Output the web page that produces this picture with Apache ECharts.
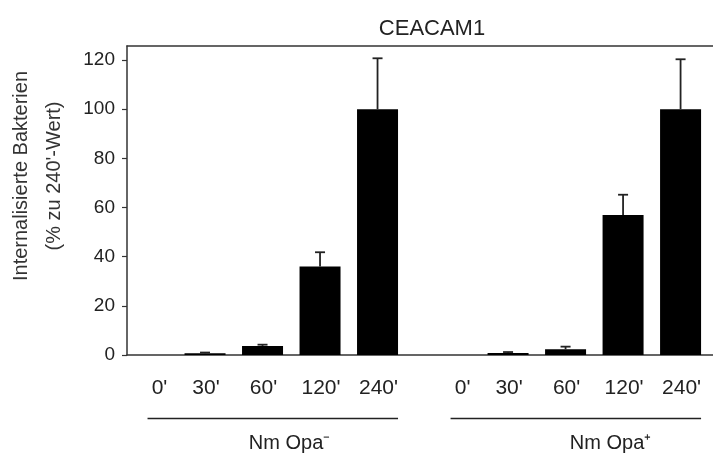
<!DOCTYPE html>
<html>
<head>
<meta charset="utf-8">
<script src="https://cdn.jsdelivr.net/npm/echarts@6/dist/echarts.min.js"></script>
<style>
  html, body { margin: 0; padding: 0; background: #fff; }
  #chart { width: 713px; height: 453px; }
</style>
</head>
<body>
<div id="chart"></div>
<script>
// data
const timeLabels = ["0'", "30'", "60'", "120'", "240'"];
const groupNames = ['Nm Opa\u207B', 'Nm Opa\u207A'];
const opaMinus = [0, 0.7, 3.7, 36, 100];
const opaMinusErr = [0, 0.3, 0.5, 5.8, 20.7];
const opaPlus = [0, 0.8, 2.3, 57, 100];
const opaPlusErr = [0, 0.4, 1.1, 8.2, 20.3];
const yTicks = [0, 20, 40, 60, 80, 100, 120];

const FONT = '"Liberation Sans", Arial, sans-serif';
const groupStart = [0, 5.27];   // x position of each group's first bar
const xMin = -0.357, xMax = 9.834;
const BAR_W = 41;

// build points
const bars = [], errs = [], ticks = [];
[[opaMinus, opaMinusErr], [opaPlus, opaPlusErr]].forEach(function (g, gi) {
  g[0].forEach(function (v, i) {
    const x = groupStart[gi] + i;
    bars.push([x, v]);
    errs.push([x, v, g[1][i]]);
    ticks.push([x, 0, i]);
  });
});
const groups = groupStart.map(function (s, gi) { return [s, gi]; });

const chart = echarts.init(document.getElementById('chart'));

chart.setOption({
  backgroundColor: '#ffffff',
  animation: false,
  title: {
    text: 'CEACAM1',
    left: 427,
    top: 13,
    textAlign: 'center',
    textStyle: { fontFamily: FONT, fontSize: 22, fontWeight: 'normal', color: '#222' }
  },
  grid: { left: 127, right: 0, top: 46, bottom: 98 },
  xAxis: [
    {
      type: 'value', min: xMin, max: xMax, position: 'bottom',
      axisLine: { show: true, onZero: false, lineStyle: { color: '#333', width: 1.5 } },
      axisTick: { show: false }, axisLabel: { show: false }, splitLine: { show: false }
    },
    {
      type: 'value', min: xMin, max: xMax, position: 'top',
      axisLine: { show: true, onZero: false, lineStyle: { color: '#333', width: 1.5 } },
      axisTick: { show: false }, axisLabel: { show: false }, splitLine: { show: false }
    }
  ],
  yAxis: {
    type: 'value', min: 0, max: 125.7,
    axisLine: { show: true, onZero: false, lineStyle: { color: '#333', width: 1.5 } },
    axisTick: { show: true, length: 5, customValues: yTicks, lineStyle: { color: '#333', width: 1.2 } },
    axisLabel: { customValues: yTicks, margin: 12, fontFamily: FONT, fontSize: 19, color: '#222' },
    splitLine: { show: false }
  },
  graphic: [{
    type: 'text',
    x: 38, y: 176,
    rotation: Math.PI / 2,
    style: {
      text: 'Internalisierte Bakterien\n(% zu 240\'-Wert)',
      font: '20px ' + FONT,
      fill: '#333',
      align: 'center',
      verticalAlign: 'middle',
      lineHeight: 33
    }
  }],
  series: [
    {
      type: 'bar',
      data: bars,
      barWidth: BAR_W,
      itemStyle: { color: '#000' }
    },
    {
      type: 'custom',
      data: errs,
      z: 3,
      renderItem: function (params, api) {
        const x = api.value(0), v = api.value(1), e = api.value(2);
        if (!e) return;
        const b = api.coord([x, v]);
        const t = api.coord([x, v + e]);
        const st = { stroke: '#222', lineWidth: 1.8 };
        return {
          type: 'group',
          children: [
            { type: 'line', shape: { x1: b[0], y1: b[1], x2: t[0], y2: t[1] }, style: st },
            { type: 'line', shape: { x1: t[0] - 5, y1: t[1], x2: t[0] + 5, y2: t[1] }, style: st }
          ]
        };
      }
    },
    {
      // time labels under the axis
      type: 'custom',
      data: ticks,
      clip: false,
      renderItem: function (params, api) {
        const p = api.coord([api.value(0), 0]);
        return {
          type: 'text',
          x: p[0] + (api.value(2) === 0 ? 12 : 1),
          y: p[1] + 33,
          style: {
            text: timeLabels[api.value(2)],
            font: '21px ' + FONT,
            fill: '#222',
            align: 'center',
            verticalAlign: 'middle'
          }
        };
      }
    },
    {
      // group brackets and names
      type: 'custom',
      data: groups,
      clip: false,
      renderItem: function (params, api) {
        const s = api.value(0), gi = api.value(1);
        const a = api.coord([s, 0]);
        const b = api.coord([s + timeLabels.length - 1, 0]);
        const y = a[1] + 63.5;
        const mid = (a[0] + b[0]) / 2;
        return {
          type: 'group',
          children: [
            { type: 'line', shape: { x1: a[0], y1: y, x2: b[0] + BAR_W / 2, y2: y },
              style: { stroke: '#222', lineWidth: 1.3 } },
            { type: 'text', x: mid + (gi === 0 ? 27 : 45), y: y + 25,
              style: { text: groupNames[gi], font: '20px ' + FONT, fill: '#222',
                       align: 'center', verticalAlign: 'middle' } }
          ]
        };
      }
    }
  ]
});
</script>
</body>
</html>
